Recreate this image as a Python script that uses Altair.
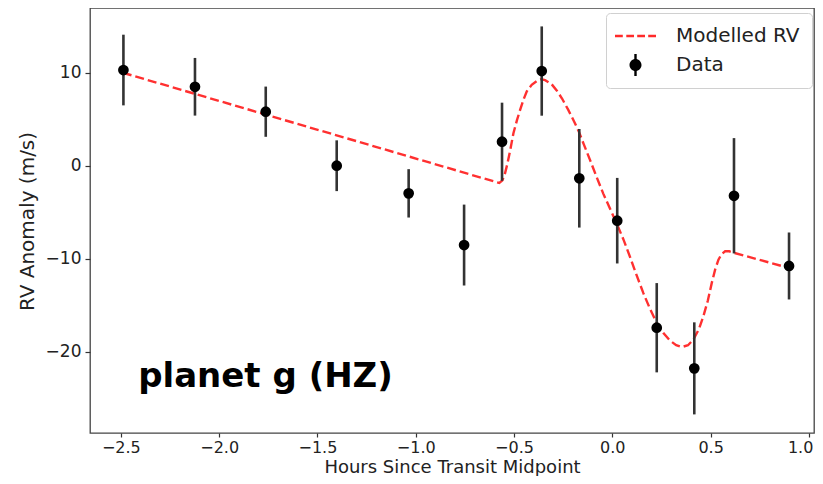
import altair as alt
import pandas as pd

# ---- data ----
obs_x = [-2.487, -2.123, -1.763, -1.402, -1.036, -0.754, -0.561, -0.359,
         -0.168, 0.025, 0.226, 0.417, 0.619, 0.899]
obs_y = [10.29, 8.49, 5.81, 0.0, -2.97, -8.53, 2.58, 10.18,
         -1.35, -5.91, -17.42, -21.79, -3.23, -10.78]
obs_err = [3.8, 3.1, 2.7, 2.73, 2.6, 4.35, 4.2, 4.8,
           5.3, 4.6, 4.8, 4.95, 6.2, 3.6]

model_x = [-2.49, -0.60, -0.575, -0.56, -0.548, -0.535, -0.52, -0.503, -0.485,
           -0.469, -0.452, -0.435, -0.41, -0.385, -0.362, -0.342, -0.31,
           -0.283, -0.255, -0.224, -0.2, -0.173, -0.145, -0.113, -0.08, -0.046,
           -0.012, 0.022, 0.056, 0.09, 0.124, 0.158, 0.192, 0.226, 0.26, 0.293,
           0.325, 0.353, 0.385, 0.412, 0.44, 0.463, 0.486, 0.506, 0.524, 0.540,
           0.556, 0.574, 0.595, 0.616, 0.90]
model_y = [10.0, -1.7, -1.85, -1.6, -1.0, 0.1, 1.6, 3.5, 4.9,
           6.0, 7.1, 8.0, 8.7, 9.1, 9.3, 9.2, 8.8,
           8.1, 7.2, 6.0, 5.0, 3.8, 2.3, 0.6, -1.2, -3.0,
           -4.6, -6.2, -7.9, -9.8, -11.8, -13.7, -15.4, -16.9, -18.0, -18.8,
           -19.3, -19.5, -19.3, -18.7, -17.6, -16.2, -14.5, -12.6, -11.1, -10.1,
           -9.5, -9.2, -9.2, -9.35, -11.0]

legend_labels = ["Modelled RV", "Data"]
x_ticks = [-2.5, -2.0, -1.5, -1.0, -0.5, 0.0, 0.5, 1.0]
y_ticks = [-20, -10, 0, 10]
x_domain = [-2.657, 1.026]
y_domain = [-28.74, 16.96]

note_text = "planet g (HZ)"
note_x = -2.412
note_y = -23.8

# ---- tables ----
obs = pd.DataFrame({"x": obs_x, "y": obs_y, "err": obs_err})
obs["lo"] = obs["y"] - obs["err"]
obs["hi"] = obs["y"] + obs["err"]
model = pd.DataFrame({"x": model_x, "y": model_y})
leg = pd.DataFrame({"series": legend_labels})
note = pd.DataFrame({"x": [note_x], "y": [note_y], "t": [note_text]})

FONT = "DejaVu Sans"
xs = alt.Scale(domain=x_domain, nice=False, zero=False)
ys = alt.Scale(domain=y_domain, nice=False, zero=False)

x_axis = alt.Axis(values=x_ticks, format=".1f", title="Hours Since Transit Midpoint",
                  grid=False, domain=False, tickSize=4, tickColor="#333", tickWidth=1.2,
                  labelFont=FONT, labelFontSize=16, labelColor="#222", labelPadding=2,
                  labelFlush=10, labelFlushOffset=4,
                  titleFont=FONT, titleFontSize=18, titleFontWeight="normal",
                  titleColor="#222", titleY=39.5, titleBaseline="alphabetic")
y_axis = alt.Axis(values=y_ticks, format="d", title="RV Anomaly (m/s)",
                  grid=False, domain=False, tickSize=5, tickColor="#333", tickWidth=1.2,
                  labelFont=FONT, labelFontSize=17, labelColor="#222", labelPadding=4,
                  titleFont=FONT, titleFontSize=20, titleFontWeight="normal",
                  titleColor="#222", titleX=-63, titleY=213, titleBaseline="middle")

line = alt.Chart(model).mark_line(color="#ff1a1a", strokeWidth=2.4, opacity=0.9,
                                  strokeDash=[9, 4]).encode(
    x=alt.X("x:Q", scale=xs, axis=x_axis),
    y=alt.Y("y:Q", scale=ys, axis=y_axis),
    order="x:Q",
)

bars = alt.Chart(obs).mark_rule(color="#333", strokeWidth=2.6).encode(
    x=alt.X("x:Q", scale=xs),
    y=alt.Y("lo:Q", scale=ys),
    y2="hi:Q",
)

pts = alt.Chart(obs).mark_circle(color="black", opacity=1, size=115).encode(
    x=alt.X("x:Q", scale=xs),
    y=alt.Y("y:Q", scale=ys),
)

# legend symbols (unit = 10 px at symbolSize 400)
dash_path = ("M-1.4,-0.125H-0.62V0.125H-1.4Z M-0.27,-0.125H0.5V0.125H-0.27Z "
             "M0.82,-0.125H1.6V0.125H0.82Z M1.92,-0.125H2.7V0.125H1.92Z")
data_path = ("M1.25,0A0.6,0.6 0 1,1 0.05,0A0.6,0.6 0 1,1 1.25,0Z "
             "M0.53,-1.1H0.77V1.1H0.53Z")

legend_layer = alt.Chart(leg).mark_point(filled=True, opacity=0).encode(
    color=alt.Color("series:N",
                    scale=alt.Scale(domain=legend_labels, range=["#ff2a2a", "black"]),
                    legend=alt.Legend(title=None, orient="none", legendX=516, legendY=5,
                                      symbolSize=400, symbolOpacity=1,
                                      labelFont=FONT, labelFontSize=20, labelColor="#222",
                                      labelOffset=36, padding=12, rowPadding=8,
                                      cornerRadius=4, strokeColor="#d0d0d0",
                                      fillColor="white")),
    shape=alt.Shape("series:N",
                    scale=alt.Scale(domain=legend_labels, range=[dash_path, data_path]),
                    legend=None),
)

txt = alt.Chart(note).mark_text(font="DejaVu Sans", fontSize=34, fontWeight="bold",
                                align="left", baseline="alphabetic",
                                color="black").encode(
    x=alt.X("x:Q", scale=xs),
    y=alt.Y("y:Q", scale=ys),
    text="t:N",
)

chart = alt.layer(line, bars, pts, txt, legend_layer).properties(
    width=724, height=425,
    background="white",
    autosize=alt.AutoSizeParams(type="none"),
    padding={"left": 82, "top": 0, "right": 1, "bottom": 43},
).configure_view(stroke="#444", strokeWidth=1.3)

chart.save("out.html", embed_options={"renderer": "svg", "actions": False})
